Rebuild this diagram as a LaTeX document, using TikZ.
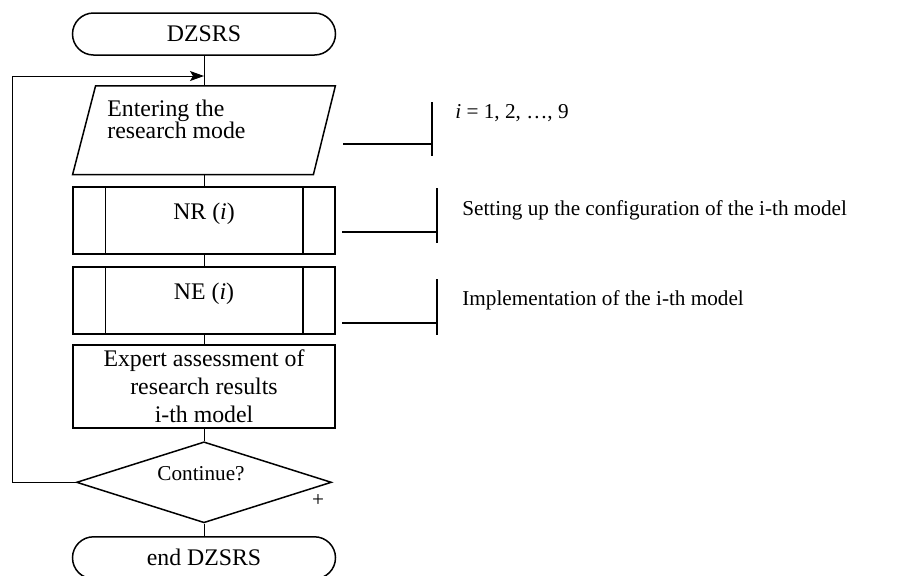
\documentclass[tikz,border=0pt]{standalone}
\usepackage{fontspec}
\setmainfont{Liberation Serif}
\usetikzlibrary{positioning,arrows.meta,shapes.geometric}

\begin{document}
\begin{tikzpicture}[
  x=0.5pt, y=-0.5pt,
  node distance=5.75pt,
  every node/.style={font=\fontsize{11.9}{13.8}\selectfont},
  term/.style={draw,line width=0.75pt,rounded corners=10.5pt,minimum width=131.5pt,
    minimum height=21pt,inner sep=0pt},
  io/.style={minimum width=131pt,minimum height=44pt,inner sep=0pt},
  proc/.style={draw,line width=0.75pt,minimum width=131pt,minimum height=33.5pt,
    text depth=9pt,inner sep=0pt},
  box/.style={draw,line width=0.75pt,minimum width=131pt,minimum height=41.5pt,
    align=center,inner sep=0pt},
  decision/.style={draw,line width=0.75pt,diamond,minimum width=127.5pt,
    minimum height=40.5pt,inner sep=0pt},
  note/.style={font=\fontsize{10.6}{12.5}\selectfont,anchor=west,inner sep=0pt},
  link/.style={line width=0.5pt},
  brace/.style={line width=0.8pt},
  arr/.style={-{Stealth[length=7pt,width=5pt,inset=1.5pt]},line width=0.5pt}
]
\useasboundingbox (0,0) rectangle (915,575);

% main column
\node[term] (start) at (204,34) {DZSRS};
\node[io,below=15pt of start] (mode) {};
\draw[line width=0.75pt] ([xshift=11.5pt]mode.north west) -- (mode.north east)
  -- ([xshift=-11pt]mode.south east) -- (mode.south west) -- cycle;
\node[anchor=base west,align=left,inner sep=0pt,font=\fontsize{11.9}{10.85}\selectfont]
  (modetxt) at (107,138.3) {Entering the\\research mode};
\node[proc,below=of mode] (nr) {NR (\textit{i})};
\node[proc,below=of nr] (ne) {NE (\textit{i})};
\node[box,below=4.75pt of ne] (expert) {Expert assessment of\\research results\\i-th model};
\node[decision,below=6.25pt of expert] (cont) {};
\node[font=\fontsize{10.6}{12.5}\selectfont,anchor=base] (conttxt) at (201,480) {Continue?};
\node[font=\fontsize{10.6}{12.5}\selectfont] (plus) at (318,500) {+};
\node[term,below=6.25pt of cont] (stop) {end DZSRS};

% side bars of the predefined processes
\foreach \n in {nr,ne} {
  \draw[line width=0.75pt] ([xshift=16.5pt]\n.north west) -- ([xshift=16.5pt]\n.south west);
  \draw[line width=0.75pt] ([xshift=-16.5pt]\n.north east) -- ([xshift=-16.5pt]\n.south east);
}

\draw[link] (start) -- (mode);
\draw[link] (mode) -- (nr);
\draw[link] (nr) -- (ne);
\draw[link] (ne) -- (expert);
\draw[link] (expert) -- (cont);
\draw[link] (cont) -- (stop);

% loop back
\coordinate (back) at (12,76);
\draw[arr] (cont.west) -| (back) -- (back -| start.south);

% comments
\node[note] (t1) at (455,113) {\textit{i} = 1, 2, …, 9};
\node[note] (t2) at (462,210) {Setting up the configuration of the i-th model};
\node[note] (t3) at (462,300) {Implementation of the i-th model};
\coordinate (c1) at (343,144);
\coordinate (b1) at (432,144);
\coordinate (c2) at (342,232);
\coordinate (b2) at (437,232);
\coordinate (c3) at (342,323);
\coordinate (b3) at (437,323);
\draw[brace] (c1) -- (b1) ++(0,-42) -- ++(0,54);
\draw[brace] (c2) -- (b2) ++(0,-44) -- ++(0,55);
\draw[brace] (c3) -- (b3) ++(0,-44) -- ++(0,56);
\end{tikzpicture}
\end{document}
